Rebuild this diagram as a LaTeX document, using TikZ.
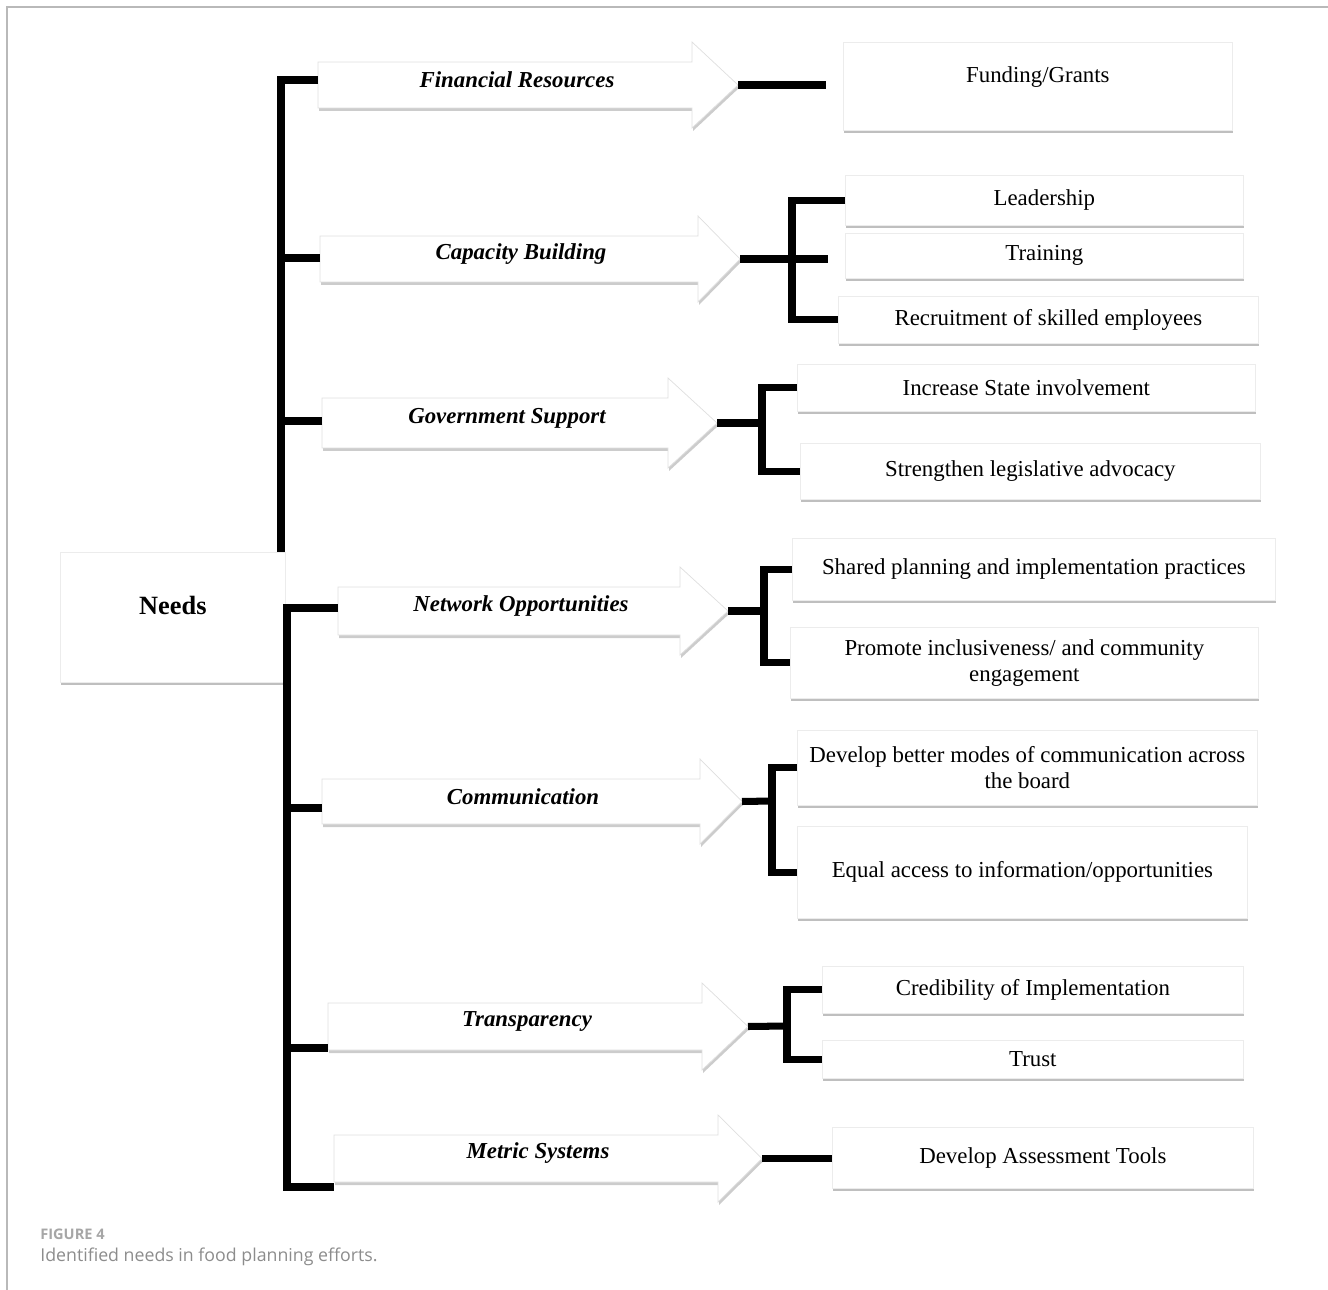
\documentclass[tikz,border=0pt]{standalone}
\usepackage{fontspec}
\setmainfont{Liberation Serif}
\newfontfamily\capfont{Open Sans}
\usetikzlibrary{shadows}
\newcommand\leafbox[6]{\node[leaf,minimum width={(#4-#2)*0.02cm},minimum height={(#5-#3)*0.02cm},anchor=north west] (#1) at (#2,#3) {#6};}
\newcommand\needarrow[8]{%
  \draw[arrowbody] (#2,#3) -- (#5,#3) -- (#5,#3-20) -- (#6,{(#3+#4)/2}) -- (#5,#4+20) -- (#5,#4) -- (#2,#4) -- cycle;
  \node[arrowtext] (#1) at ({(#2+#5)/2+12},{(#3+#4)/2-5}) {#7};
  \coordinate (#1-tip) at (#6,{(#3+#4)/2});
  \coordinate (#1-in) at (#2,#8);}
\begin{document}
\begin{tikzpicture}[x=0.02cm,y=-0.02cm,line join=miter,
    frame/.style={draw=gray!55,line width=1pt},
    spine/.style={line width=4.5pt},
    bar/.style={line width=4pt},
    leaf/.style={draw=gray!15,fill=white,inner sep=2pt,align=center,font=\fontsize{13}{15}\selectfont,
      drop shadow={shadow xshift=0.02cm,shadow yshift=-0.06cm,opacity=0.5}},
    arrowbody/.style={draw=gray!25,fill=white,
      drop shadow={shadow xshift=0.02cm,shadow yshift=-0.06cm,opacity=0.4}},
    arrowtext/.style={font=\fontsize{13}{15}\selectfont\bfseries\itshape}]
  \useasboundingbox (0,0) rectangle (1328,1290);
  \draw[frame] (1328,7) -- (7,7) -- (7,1290);

  \leafbox{needs}{60}{552}{285}{682}{\raisebox{0.06cm}[0pt][0pt]{\fontsize{15}{17}\selectfont\bfseries Needs}}
  \leafbox{fund}{843}{42}{1232}{130}{\raisebox{0.08cm}[0pt][0pt]{Funding/Grants}}
  \leafbox{lead}{845}{175}{1243}{225}{Leadership}
  \leafbox{train}{845}{233}{1243}{278}{Training}
  \leafbox{recr}{838}{296}{1258}{343}{Recruitment of skilled employees}
  \leafbox{state}{797}{364}{1255}{411}{Increase State involvement}
  \leafbox{legis}{800}{443}{1260}{499}{Strengthen legislative advocacy}
  \leafbox{share}{792}{538}{1275}{600}{Shared planning and implementation practices}
  \leafbox{incl}{790}{627}{1258}{698}{Promote inclusiveness/ and community\\engagement}
  \leafbox{modes}{797}{730}{1257}{805}{Develop better modes of communication across\\the board}
  \leafbox{access}{797}{826}{1247}{918}{Equal access to information/opportunities}
  \leafbox{cred}{822}{966}{1243}{1013}{Credibility of Implementation}
  \leafbox{trust}{822}{1040}{1243}{1078}{Trust}
  \leafbox{tools}{832}{1127}{1253}{1188}{Develop Assessment Tools}

  \needarrow{fin}{318}{62}{108}{692}{738}{Financial Resources}{80}
  \needarrow{cap}{320}{236}{282}{698}{740}{Capacity Building}{258}
  \needarrow{gov}{322}{398}{448}{668}{717}{Government Support}{421}
  \needarrow{net}{338}{587}{635}{680}{728}{Network Opportunities}{608}
  \needarrow{com}{322}{779}{824}{700}{742}{Communication}{808}
  \needarrow{tra}{328}{1003}{1050}{702}{748}{Transparency}{1048}
  \needarrow{met}{334}{1135}{1182}{718}{762}{Metric Systems}{1187}

  \coordinate (up) at ([xshift=-0.1cm]needs.north east);
  \coordinate (low) at ([xshift=0.03cm]needs.east |- met-in);
  \draw[spine] (fin-in) -| (up);
  \draw[spine] (cap-in) -- (cap-in -| up);
  \draw[spine] (gov-in) -- (gov-in -| up);
  \draw[spine] (net-in) -| (low) -- (met-in);
  \draw[spine] (com-in) -- (com-in -| low);
  \draw[spine] (tra-in) -- (tra-in -| low);

  \coordinate (cap-j) at (792,259);
  \coordinate (gov-j) at (762,423);
  \coordinate (net-j) at (764,611);
  \coordinate (com-j) at (772,801);
  \coordinate (tra-j) at (787,1026);
  \draw[bar,shorten >=0.34cm] (fin-tip) -- (fin-tip -| fund.west);
  \draw[bar] (cap-tip) -- (cap-j);
  \draw[bar,shorten >=0.34cm] (cap-j) -- (cap-j -| train.west);
  \draw[bar] (lead.west) -| (cap-j) |- (recr.west);
  \draw[bar] (gov-tip) -- (gov-j);
  \draw[bar] (state.west) -| (gov-j) |- (legis.west);
  \draw[bar] (net-tip) -- (net-j);
  \draw[bar] (share.west) -| (net-j) |- (incl.west);
  \draw[bar] (com-tip) -- (com-j);
  \draw[bar] (modes.west) -| (com-j) |- (access.west);
  \draw[bar] (tra-tip) -- (tra-j);
  \draw[bar] (cred.west) -| (tra-j) |- (trust.west);
  \draw[bar] (met-tip) -- (met-tip -| tools.west);

  \node[anchor=west,inner sep=0,text=gray!70,font=\capfont\bfseries\fontsize{8.3}{10}\selectfont] (fig) at (40,1234) {FIGURE 4};
  \node[anchor=west,inner sep=0,text=gray!90,font=\capfont\fontsize{10.1}{12}\selectfont] (caption) at (40,1257) {Identified needs in food planning efforts.};
\end{tikzpicture}
\end{document}
